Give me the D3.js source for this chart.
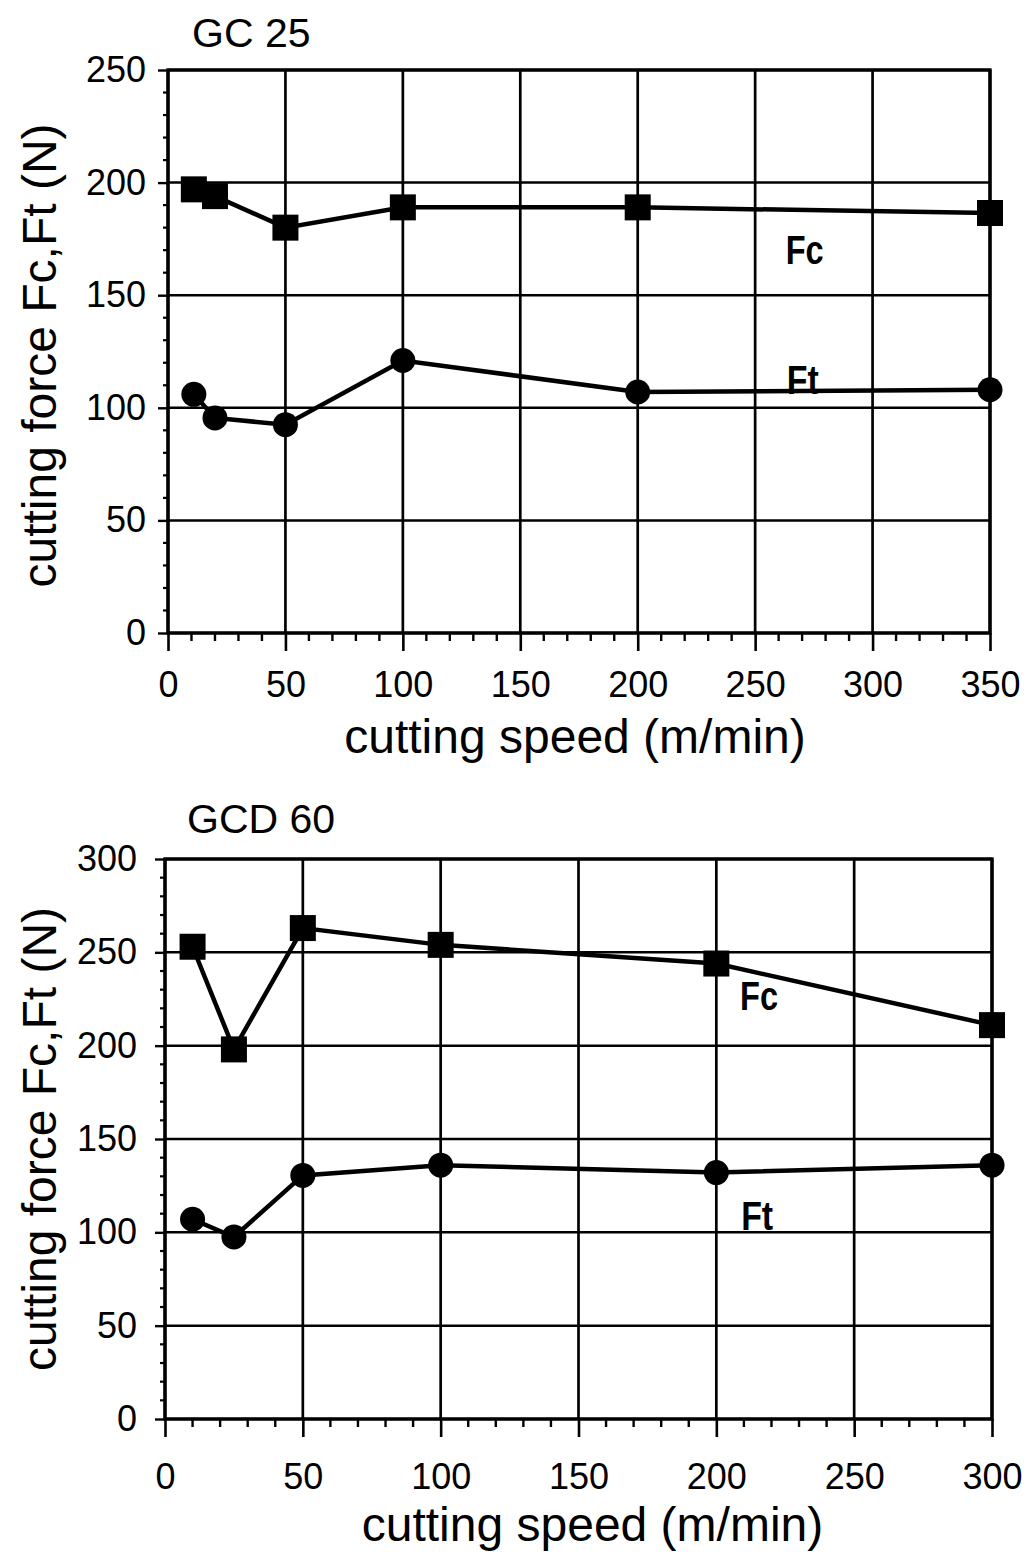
<!DOCTYPE html>
<html><head><meta charset="utf-8">
<script src="https://cdn.jsdelivr.net/npm/d3@7"></script>
<style>
html,body{margin:0;padding:0;background:#fff;}
svg text{font-family:"Liberation Sans",Arial,Helvetica,sans-serif;fill:#000;}
</style></head>
<body>
<svg id="chart" width="1032" height="1555"></svg>
<script>
// ---- Panel 1: GC 25 ----
const title1 = "GC 25";
const xTicks1 = [0, 50, 100, 150, 200, 250, 300, 350];
const yTicks1 = [0, 50, 100, 150, 200, 250];
const speed1 = [11, 20, 50, 100, 200, 350];
const fc1 = [197, 194, 180, 189, 189, 186.5];
const ft1 = [106, 95.5, 92.5, 121, 107, 108];
const labels1 = [{t: "Fc", x: 263, y: 164}, {t: "Ft", x: 263.5, y: 106}];

// ---- Panel 2: GCD 60 ----
const title2 = "GCD 60";
const xTicks2 = [0, 50, 100, 150, 200, 250, 300];
const yTicks2 = [0, 50, 100, 150, 200, 250, 300];
const speed2 = [10, 25, 50, 100, 200, 300];
const fc2 = [253, 198, 263, 254, 244, 211];
const ft2 = [107, 97.5, 130.5, 136, 132, 136];
const labels2 = [{t: "Fc", x: 208.6, y: 219}, {t: "Ft", x: 209, y: 101}];

const xTitle = "cutting speed (m/min)";
const yTitle = "cutting force Fc,Ft (N)";

const svg = d3.select("#chart");

function panel(cfg) {
  const g = svg.append("g");
  const x = d3.scaleLinear().domain([0, d3.max(cfg.xTicks)]).range([cfg.left, cfg.right]);
  const y = d3.scaleLinear().domain([0, d3.max(cfg.yTicks)]).range([cfg.bottom, cfg.top]);
  const xMax = d3.max(cfg.xTicks), yMax = d3.max(cfg.yTicks);

  // grid lines
  g.append("g").selectAll("line").data(cfg.xTicks).join("line")
    .attr("x1", d => x(d)).attr("x2", d => x(d))
    .attr("y1", y(0)).attr("y2", y(yMax))
    .attr("stroke", "#000").attr("stroke-width", 2.7);
  g.append("g").selectAll("line").data(cfg.yTicks).join("line")
    .attr("x1", x(0)).attr("x2", x(xMax))
    .attr("y1", d => y(d)).attr("y2", d => y(d))
    .attr("stroke", "#000").attr("stroke-width", 2.5);

  // frame
  g.append("rect").attr("x", x(0)).attr("y", y(yMax))
    .attr("width", x(xMax) - x(0)).attr("height", y(0) - y(yMax))
    .attr("fill", "none").attr("stroke", "#000").attr("stroke-width", 3.4);

  // x axis ticks (major + minor below)
  const xAxis = d3.axisBottom(x).tickValues(cfg.xTicks).tickSize(18).tickPadding(cfg.xPad)
    .tickFormat(d3.format("d"));
  const xa = g.append("g").attr("transform", `translate(0,${y(0)})`).call(xAxis);
  xa.select(".domain").remove();
  xa.selectAll(".tick line").attr("stroke", "#000").attr("stroke-width", 2.6);
  xa.selectAll(".tick text").attr("font-size", 36).attr("font-family", null).attr("fill", "#000");
  const xMinor = d3.range(0, xMax + 0.1, 10).filter(v => v % 50 !== 0);
  g.append("g").selectAll("line").data(xMinor).join("line")
    .attr("x1", d => x(d)).attr("x2", d => x(d))
    .attr("y1", y(0)).attr("y2", y(0) + 8)
    .attr("stroke", "#000").attr("stroke-width", 2.4);

  // y axis ticks
  const yAxis = d3.axisLeft(y).tickValues(cfg.yTicks).tickSize(10).tickPadding(cfg.yPad)
    .tickFormat(d3.format("d"));
  const ya = g.append("g").attr("transform", `translate(${x(0)},0)`).call(yAxis);
  ya.select(".domain").remove();
  ya.selectAll(".tick line").attr("stroke", "#000").attr("stroke-width", 2.4);
  ya.selectAll(".tick text").attr("font-size", 36).attr("font-family", null).attr("fill", "#000");
  const yMinor = d3.range(0, yMax + 0.1, 10).filter(v => v % 50 !== 0);
  g.append("g").selectAll("line").data(yMinor).join("line")
    .attr("x1", x(0) - 5).attr("x2", x(0))
    .attr("y1", d => y(d)).attr("y2", d => y(d))
    .attr("stroke", "#000").attr("stroke-width", 2.2);

  // series
  const line = d3.line().x(d => x(d[0])).y(d => y(d[1]));
  const fcPts = cfg.speed.map((s, i) => [s, cfg.fc[i]]);
  const ftPts = cfg.speed.map((s, i) => [s, cfg.ft[i]]);
  [fcPts, ftPts].forEach(pts => {
    g.append("path").datum(pts).attr("d", line)
      .attr("fill", "none").attr("stroke", "#000").attr("stroke-width", 4.5);
  });
  const sq = 26;
  g.append("g").selectAll("rect").data(fcPts).join("rect")
    .attr("x", d => x(d[0]) - sq / 2).attr("y", d => y(d[1]) - sq / 2)
    .attr("width", sq).attr("height", sq).attr("fill", "#000");
  g.append("g").selectAll("circle").data(ftPts).join("circle")
    .attr("cx", d => x(d[0])).attr("cy", d => y(d[1])).attr("r", 12.5).attr("fill", "#000");

  // series labels
  g.append("g").selectAll("text").data(cfg.labels).join("text")
    .attr("x", d => x(d.x)).attr("y", d => y(d.y))
    .attr("font-size", 40).attr("font-weight", "bold")
    .attr("textLength", d => d.t === "Fc" ? 38 : 32).attr("lengthAdjust", "spacingAndGlyphs")
    .text(d => d.t);

  // title
  g.append("text").attr("x", cfg.titleX).attr("y", cfg.titleY)
    .attr("font-size", 41).text(cfg.title);

  // axis titles
  g.append("text").attr("x", (x(0) + x(xMax)) / 2 + cfg.xtOff).attr("y", cfg.xtY)
    .attr("text-anchor", "middle").attr("font-size", 48).text(xTitle);
  g.append("text")
    .attr("transform", `translate(${cfg.ytX},${(y(0) + y(yMax)) / 2 + cfg.ytOff}) rotate(-90)`)
    .attr("text-anchor", "middle").attr("font-size", 48).text(yTitle);
}

panel({title: title1, xTicks: xTicks1, yTicks: yTicks1, speed: speed1, fc: fc1, ft: ft1, labels: labels1,
  left: 168, right: 990, top: 70, bottom: 633, yPad: 12, xPad: 20,
  titleX: 192, titleY: 47, xtY: 753, xtOff: -4, ytX: 56, ytOff: 4});
panel({title: title2, xTicks: xTicks2, yTicks: yTicks2, speed: speed2, fc: fc2, ft: ft2, labels: labels2,
  left: 165, right: 992, top: 859, bottom: 1419, yPad: 18, xPad: 26,
  titleX: 187, titleY: 833, xtY: 1541, xtOff: 14, ytX: 56, ytOff: 0});
</script>
</body></html>
